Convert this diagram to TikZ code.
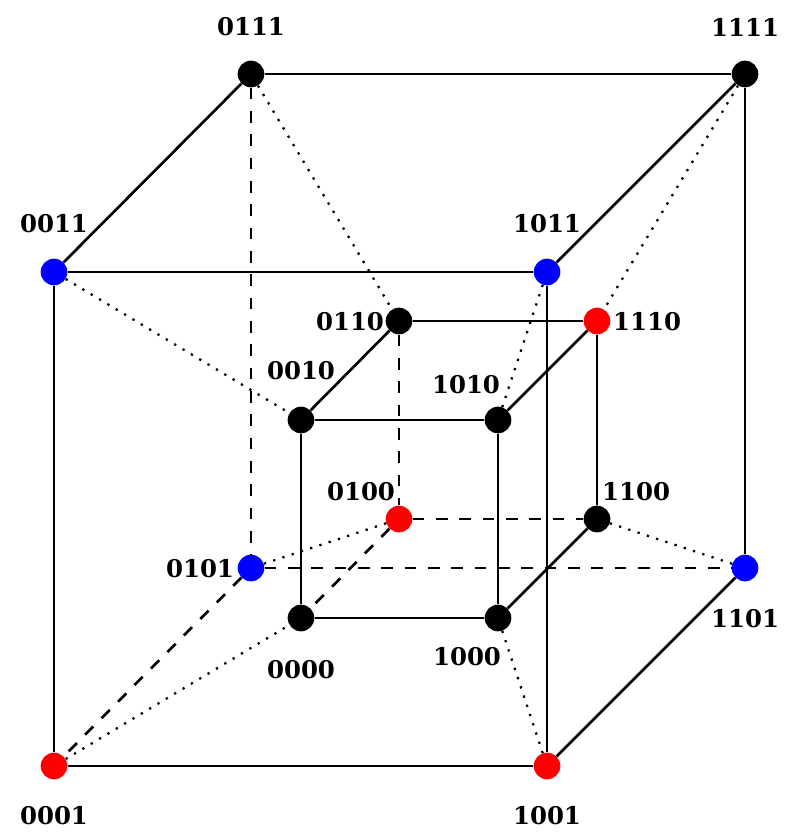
\documentclass[tikz,border=0pt]{standalone}
\usepackage{fontspec}
\setmainfont{DejaVu Serif}
\usetikzlibrary{positioning}
\tikzset{
  vert/.style={circle, fill=#1, inner sep=0pt, minimum size=20pt},
  lab/.style={font=\fontsize{18.3}{20}\selectfont\bfseries, inner sep=0pt},
  edge/.style={line width=2pt},
  hid/.style={line width=2pt, dash pattern=on 8.75pt off 8.75pt},
  diag/.style={line width=1.7pt, dash pattern=on 1.7pt off 5.6pt},
}
\begin{document}
\begin{tikzpicture}[x=0.75pt,y=-0.75pt]
  \useasboundingbox (0,0) rectangle (792,835);
  % outer cube
  \node[vert=black] (v0111) at (251,74) {};
  \node[vert=black] (v1111) at (745,74) {};
  \node[vert=blue] (v0011) at (54,272) {};
  \node[vert=blue] (v1011) at (547,272) {};
  \node[vert=blue] (v0101) at (251,568) {};
  \node[vert=blue] (v1101) at (745,568) {};
  \node[vert=red] (v0001) at (54,766) {};
  \node[vert=red] (v1001) at (547,766) {};
  % inner cube
  \node[vert=black] (v0110) at (399,321) {};
  \node[vert=red] (v1110) at (597,321) {};
  \node[vert=black] (v0010) at (301,420) {};
  \node[vert=black] (v1010) at (498,420) {};
  \node[vert=red] (v0100) at (399,519) {};
  \node[vert=black] (v1100) at (597,519) {};
  \node[vert=black] (v0000) at (301,618) {};
  \node[vert=black] (v1000) at (498,618) {};
  % labels
  \node[lab] (l0111) at (251,27) {0111};
  \node[lab] (l1111) at (745,27) {1111};
  \node[lab] (l0011) at (54,224) {0011};
  \node[lab] (l1011) at (547,224) {1011};
  \node[lab] (l0110) at (350,322) {0110};
  \node[lab] (l1110) at (647,322) {1110};
  \node[lab] (l0010) at (301,371) {0010};
  \node[lab] (l1010) at (466,385) {1010};
  \node[lab] (l0100) at (361,492) {0100};
  \node[lab] (l1100) at (636,492) {1100};
  \node[lab] (l0101) at (200,569) {0101};
  \node[lab] (l1101) at (745,619) {1101};
  \node[lab] (l0000) at (301,670) {0000};
  \node[lab] (l1000) at (467,657) {1000};
  \node[lab] (l0001) at (54,816) {0001};
  \node[lab] (l1001) at (547,816) {1001};
  % solid edges
  \draw[edge] (v0111) -- (v1111);
  \draw[edge] (v0111) -- (v0011);
  \draw[edge] (v1111) -- (v1011);
  \draw[edge] (v1111) -- (v1101);
  \draw[edge] (v0011) -- (v1011);
  \draw[edge] (v0011) -- (v0001);
  \draw[edge] (v1011) -- (v1001);
  \draw[edge] (v0001) -- (v1001);
  \draw[edge] (v1001) -- (v1101);
  \draw[edge] (v0110) -- (v1110);
  \draw[edge] (v0110) -- (v0010);
  \draw[edge] (v1110) -- (v1010);
  \draw[edge] (v1110) -- (v1100);
  \draw[edge] (v0010) -- (v1010);
  \draw[edge] (v0010) -- (v0000);
  \draw[edge] (v1010) -- (v1000);
  \draw[edge] (v0000) -- (v1000);
  \draw[edge] (v1000) -- (v1100);
  % dashed edges
  \draw[hid] (v0111) -- (v0101);
  \draw[hid] (v0101) -- (v1101);
  \draw[hid] (v0101) -- (v0001);
  \draw[hid] (v0110) -- (v0100);
  \draw[hid] (v0100) -- (v1100);
  \draw[hid] (v0100) -- (v0000);
  % dotted links
  \draw[diag] (v0111) -- (v0110);
  \draw[diag] (v1111) -- (v1110);
  \draw[diag] (v0011) -- (v0010);
  \draw[diag] (v1011) -- (v1010);
  \draw[diag] (v0101) -- (v0100);
  \draw[diag] (v1101) -- (v1100);
  \draw[diag] (v0001) -- (v0000);
  \draw[diag] (v1001) -- (v1000);
\end{tikzpicture}
\end{document}
